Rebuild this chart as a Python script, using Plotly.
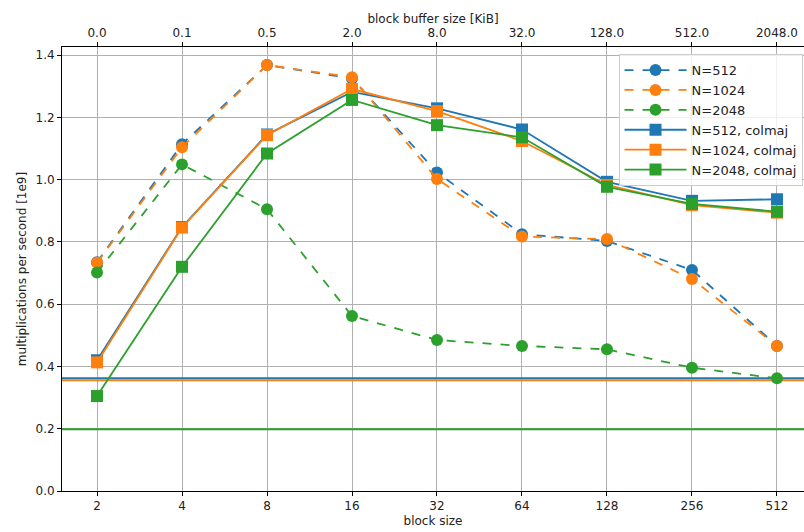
import plotly.graph_objects as go
import math

block_sizes = [2, 4, 8, 16, 32, 64, 128, 256, 512]
buffer_kib_labels = ["0.0", "0.1", "0.5", "2.0", "8.0", "32.0", "128.0", "512.0", "2048.0"]

n512 = [0.735, 1.114, 1.368, 1.325, 1.023, 0.825, 0.803, 0.710, 0.466]
n1024 = [0.733, 1.104, 1.368, 1.329, 1.002, 0.817, 0.809, 0.681, 0.466]
n2048 = [0.702, 1.049, 0.905, 0.562, 0.485, 0.466, 0.455, 0.396, 0.362]
n512_col = [0.420, 0.848, 1.145, 1.282, 1.229, 1.161, 0.993, 0.932, 0.937]
n1024_col = [0.413, 0.846, 1.143, 1.291, 1.220, 1.124, 0.983, 0.918, 0.894]
n2048_col = [0.305, 0.720, 1.084, 1.256, 1.175, 1.136, 0.977, 0.922, 0.897]

baseline_names = ["N=512", "N=1024", "N=2048"]
baselines = [0.362, 0.356, 0.198]

blue, orange, green = "#1f77b4", "#ff7f0e", "#2ca02c"
colors = [blue, orange, green]

fig = go.Figure()

# baseline horizontal lines spanning beyond the data range (clipped by the axes)
span = [block_sizes[0] / 4, block_sizes[-1] * 4]
for name, val, c in zip(baseline_names, baselines, colors):
    fig.add_trace(go.Scatter(x=span, y=[val, val], mode="lines", name=name + " baseline",
                             line=dict(color=c, width=2), showlegend=False, hoverinfo="skip"))

for name, ys, c in [("N=512", n512, blue), ("N=1024", n1024, orange), ("N=2048", n2048, green)]:
    fig.add_trace(go.Scatter(x=block_sizes, y=ys, name=name, mode="lines+markers",
                             line=dict(color=c, width=1.8, dash="dash"),
                             marker=dict(symbol="circle", size=12, color=c)))
for name, ys, c in [("N=512, colmaj", n512_col, blue), ("N=1024, colmaj", n1024_col, orange),
                    ("N=2048, colmaj", n2048_col, green)]:
    fig.add_trace(go.Scatter(x=block_sizes, y=ys, name=name, mode="lines+markers",
                             line=dict(color=c, width=1.8),
                             marker=dict(symbol="square", size=12, color=c)))

xr = [math.log10(2 ** 0.588), math.log10(2 ** 9.318)]

# invisible trace for top axis
fig.add_trace(go.Scatter(x=block_sizes, y=n512, xaxis="x2", mode="markers",
                         marker=dict(opacity=0), showlegend=False, hoverinfo="skip"))

font = dict(family="DejaVu Sans", size=12, color="#222")
fig.update_layout(
    width=804, height=532,
    margin=dict(l=62, r=0, t=47, b=41),
    paper_bgcolor="white", plot_bgcolor="white",
    font=font,
    showlegend=True,
    xaxis=dict(type="log", range=xr, tickvals=block_sizes, ticktext=[str(b) for b in block_sizes],
               showgrid=True, gridcolor="#b0b0b0", gridwidth=1, zeroline=False,
               showline=True, linecolor="black", linewidth=1, mirror=False,
               ticks="outside", ticklen=4, tickcolor="black",
               title=dict(text="block size", standoff=4, font=dict(size=12))),
    xaxis2=dict(type="log", range=xr, overlaying="x", side="top", anchor="y",
                tickvals=block_sizes, ticktext=buffer_kib_labels,
                showgrid=False, zeroline=False, showline=True, linecolor="black", linewidth=1,
                ticks="outside", ticklen=4, tickcolor="black",
                title=dict(text="block buffer size [KiB]", standoff=0, font=dict(size=12))),
    yaxis=dict(range=[0, 1.426], tickvals=[0, 0.2, 0.4, 0.6, 0.8, 1.0, 1.2, 1.4],
               ticktext=["0.0", "0.2", "0.4", "0.6", "0.8", "1.0", "1.2", "1.4"],
               showgrid=True, gridcolor="#b0b0b0", gridwidth=1, zeroline=False,
               showline=True, linecolor="black", linewidth=1,
               ticks="outside", ticklen=4, tickcolor="black",
               title=dict(text="multiplications per second [1e9]", standoff=6, font=dict(size=12))),
    legend=dict(x=0.998, y=0.984, xanchor="right", yanchor="top",
                bgcolor="rgba(255,255,255,0.8)", bordercolor="#cccccc", borderwidth=1,
                font=dict(size=13), tracegroupgap=0, itemwidth=62),
)

fig.write_html("out.html")
